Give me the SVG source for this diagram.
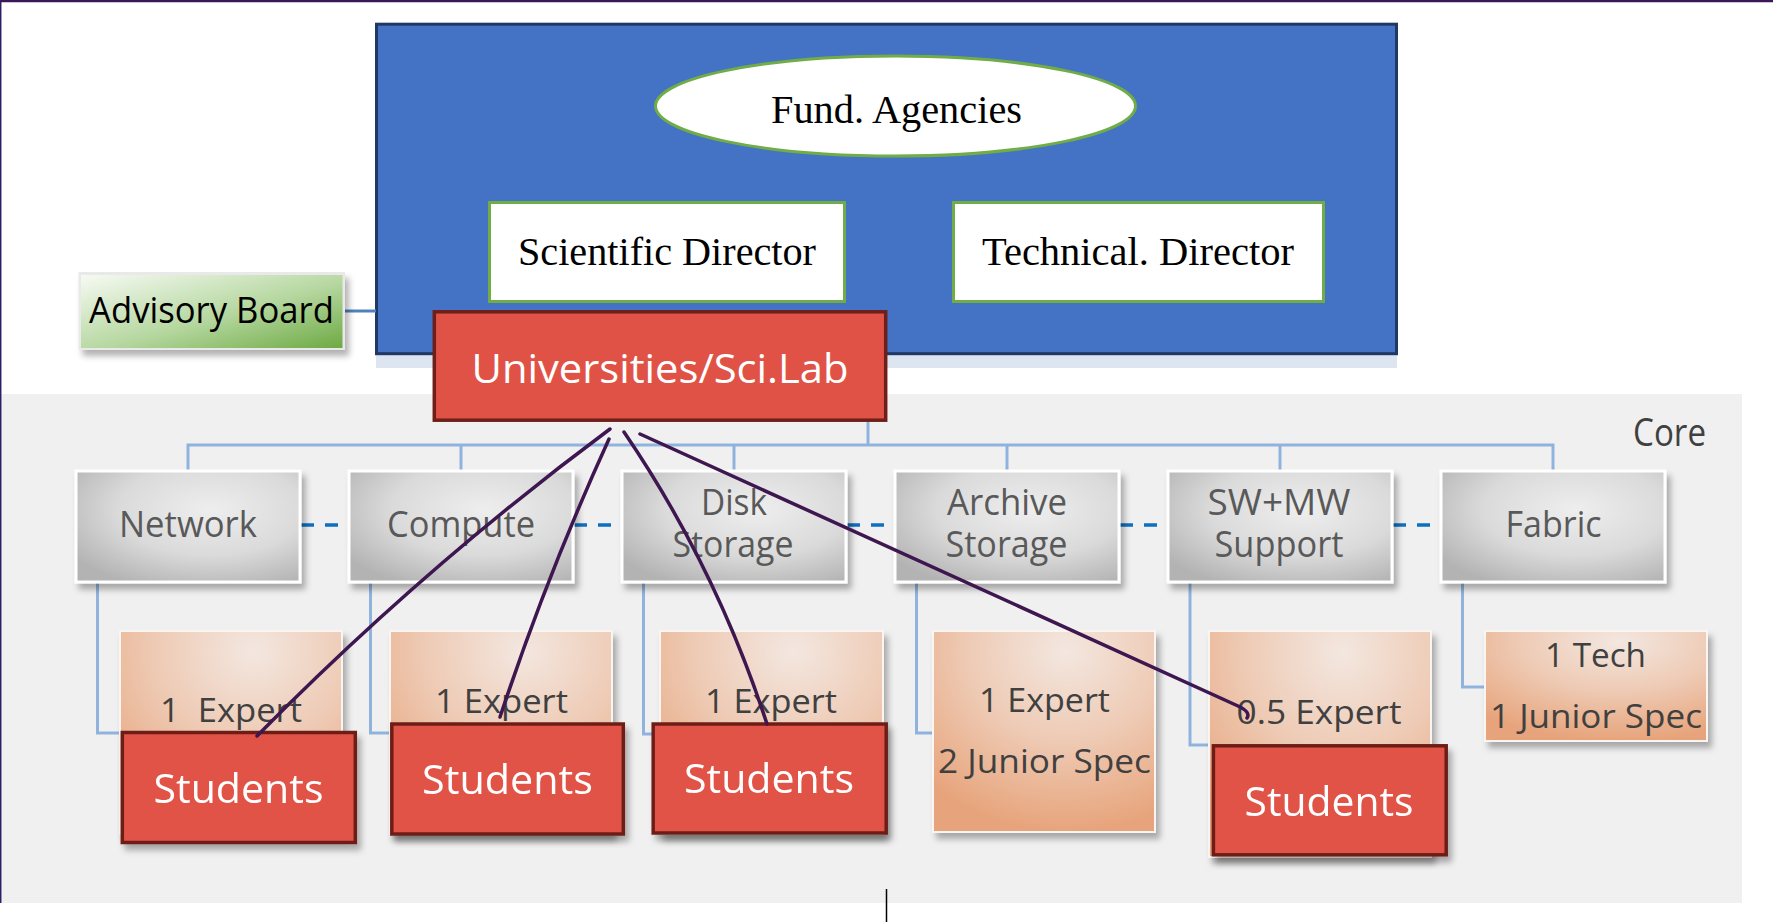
<svg xmlns="http://www.w3.org/2000/svg" width="1773" height="922" viewBox="0 0 1773 922">
  <defs>
    <radialGradient id="gGray" cx="0.6" cy="0.35" r="0.75">
      <stop offset="0" stop-color="#eeeeee"/>
      <stop offset="0.55" stop-color="#dadada"/>
      <stop offset="1" stop-color="#b3b3b3"/>
    </radialGradient>
    <radialGradient id="gPeach" cx="0.6" cy="0.1" r="0.9">
      <stop offset="0" stop-color="#f3e7e0"/>
      <stop offset="0.5" stop-color="#eecab4"/>
      <stop offset="1" stop-color="#e7a47b"/>
    </radialGradient>
    <linearGradient id="gGreen" x1="0" y1="0" x2="1" y2="1">
      <stop offset="0" stop-color="#f6faf3"/>
      <stop offset="0.55" stop-color="#b5d79f"/>
      <stop offset="1" stop-color="#6eaa44"/>
    </linearGradient>
    <filter id="shadow" x="-10%" y="-10%" width="125%" height="140%">
      <feDropShadow dx="4" dy="6" stdDeviation="3" flood-color="#000" flood-opacity="0.3"/>
    </filter>
  </defs>
  <style>
    .sans { font-family: "Open Sans", Lato, sans-serif; text-anchor: middle; font-variant-ligatures: none; }
    .serif { font-family: "Liberation Serif", "Times New Roman", serif; text-anchor: middle; fill: #000; }
    .grayT { fill: #595959; font-size: 36px; }
    .expT { fill: #404040; font-size: 33px; }
    .stuT { fill: #ffffff; font-size: 41px; }
    .red { fill: #e15246; stroke: #6e1f19; stroke-width: 3.5; }
    .gbox { fill: url(#gGray); stroke: #ffffff; stroke-width: 3; filter: url(#shadow); }
    .pbox { fill: url(#gPeach); stroke: #fbf5f1; stroke-width: 2; filter: url(#shadow); }
    .dbox { fill: #ffffff; stroke: #70ad47; stroke-width: 3; }
    .tree { fill: none; stroke: #8fb3dd; stroke-width: 3; }
    .dash { fill: none; stroke: #0e6fc1; stroke-width: 3.5; stroke-dasharray: 13 11; }
    .link { fill: none; stroke: #3e1650; stroke-width: 3.5; stroke-linecap: round; stroke-linejoin: round; }
  </style>

  <!-- page frame and core background -->
  <rect x="0" y="0" width="1773" height="922" fill="#ffffff"/>
  <rect x="0" y="394" width="1742" height="509" fill="#f0f0f0"/>
  <line x1="0" y1="1" x2="1773" y2="1" stroke="#3b1758" stroke-width="2.5"/>
  <line x1="0.7" y1="0" x2="0.7" y2="903" stroke="#2c1f66" stroke-width="1.5"/>

  <!-- governance block -->
  <g id="governance">
    <rect x="376" y="355" width="1021" height="13" fill="#dce5f0"/>
    <rect x="376.5" y="24.2" width="1020" height="329.5" fill="#4472c4" stroke="#1f3864" stroke-width="3"/>
  </g>
  <g id="fund-agencies">
    <ellipse cx="895.5" cy="106" rx="240" ry="50" fill="#ffffff" stroke="#70ad47" stroke-width="3"/>
    <text class="serif" x="896.5" y="123" font-size="39" textLength="251" lengthAdjust="spacingAndGlyphs">Fund. Agencies</text>
  </g>
  <g id="scientific-director">
    <rect class="dbox" x="489.5" y="202.5" width="355" height="99"/>
    <text class="serif" x="667" y="265" font-size="40" textLength="298" lengthAdjust="spacingAndGlyphs">Scientific Director</text>
  </g>
  <g id="technical-director">
    <rect class="dbox" x="953.5" y="202.5" width="370" height="99"/>
    <text class="serif" x="1138" y="265" font-size="40" textLength="312" lengthAdjust="spacingAndGlyphs">Technical. Director</text>
  </g>

  <!-- tree connectors -->
  <g id="connectors">
    <line x1="345" y1="311" x2="376" y2="311" stroke="#4f81bd" stroke-width="3"/>
    <path class="tree" d="M868,422 V445 M188,470 V445 H1553 V470 M461,445 V470 M734,445 V470 M1007,445 V470 M1280,445 V470"/>
    <path class="tree" d="M97.5,583 V733 H121 M370.5,583 V733 H391 M643.5,583 V734 H661 M916.5,583 V733 H934 M1190,583 V745 H1210 M1462.5,583 V687 H1486"/>
    <path class="dash" d="M301,525 H338 M574,525 H611 M847,525 H884 M1120,525 H1157 M1393,525 H1430"/>
  </g>

  <g id="advisory-board">
    <rect x="78.5" y="272" width="266.5" height="78" fill="#e9e9e9" filter="url(#shadow)"/>
    <rect x="81" y="275" width="261.5" height="73" fill="url(#gGreen)"/>
    <text class="sans" x="211.5" y="323" font-size="37" fill="#000" textLength="245" lengthAdjust="spacingAndGlyphs">Advisory Board</text>
  </g>

  <g id="universities">
    <rect class="red" x="434.3" y="311.8" width="451.4" height="108.4"/>
    <text class="sans stuT" x="660" y="383" font-size="40" textLength="377" lengthAdjust="spacingAndGlyphs">Universities/Sci.Lab</text>
  </g>

  <text id="core-label" class="sans" x="1669.5" y="446" font-size="38" fill="#404040" textLength="73" lengthAdjust="spacingAndGlyphs">Core</text>

  <!-- core areas -->
  <g id="network">
    <rect class="gbox" x="76" y="471" width="224" height="111"/>
    <text class="sans grayT" x="188" y="537" textLength="138" lengthAdjust="spacingAndGlyphs">Network</text>
  </g>
  <g id="compute">
    <rect class="gbox" x="349" y="471" width="224" height="111"/>
    <text class="sans grayT" x="461" y="537" textLength="148" lengthAdjust="spacingAndGlyphs">Compute</text>
  </g>
  <g id="disk-storage">
    <rect class="gbox" x="622" y="471" width="224" height="111"/>
    <text class="sans grayT"><tspan x="734" y="515" textLength="66" lengthAdjust="spacingAndGlyphs">Disk</tspan><tspan x="733" y="557" textLength="121" lengthAdjust="spacingAndGlyphs">Storage</tspan></text>
  </g>
  <g id="archive-storage">
    <rect class="gbox" x="895" y="471" width="224" height="111"/>
    <text class="sans grayT"><tspan x="1007" y="515" textLength="120" lengthAdjust="spacingAndGlyphs">Archive</tspan><tspan x="1006.5" y="557" textLength="122" lengthAdjust="spacingAndGlyphs">Storage</tspan></text>
  </g>
  <g id="sw-mw-support">
    <rect class="gbox" x="1168" y="471" width="224" height="111"/>
    <text class="sans grayT"><tspan x="1279" y="515" textLength="143" lengthAdjust="spacingAndGlyphs">SW+MW</tspan><tspan x="1279" y="557" textLength="129" lengthAdjust="spacingAndGlyphs">Support</tspan></text>
  </g>
  <g id="fabric">
    <rect class="gbox" x="1441" y="471" width="224" height="111"/>
    <text class="sans grayT" x="1553.5" y="537" textLength="96" lengthAdjust="spacingAndGlyphs">Fabric</text>
  </g>

  <!-- staffing -->
  <g id="staff-network">
    <rect class="pbox" x="120" y="631" width="222" height="203"/>
    <text class="sans expT" x="231" y="722" textLength="142" lengthAdjust="spacingAndGlyphs" xml:space="preserve">1  Expert</text>
  </g>
  <g id="staff-compute">
    <rect class="pbox" x="390" y="631" width="222" height="203"/>
    <text class="sans expT" x="501.5" y="713" textLength="133" lengthAdjust="spacingAndGlyphs">1 Expert</text>
  </g>
  <g id="staff-disk">
    <rect class="pbox" x="660" y="631" width="223" height="203"/>
    <text class="sans expT" x="771" y="713" textLength="132" lengthAdjust="spacingAndGlyphs">1 Expert</text>
  </g>
  <g id="staff-archive">
    <rect class="pbox" x="933" y="631" width="222" height="201"/>
    <text class="sans expT" x="1044.5" y="712" textLength="131" lengthAdjust="spacingAndGlyphs">1 Expert</text>
    <text class="sans expT" x="1044.5" y="773" textLength="213" lengthAdjust="spacingAndGlyphs">2 Junior Spec</text>
  </g>
  <g id="staff-sw-mw">
    <rect class="pbox" x="1209" y="631" width="222" height="226"/>
    <text class="sans expT" x="1319" y="724" textLength="165" lengthAdjust="spacingAndGlyphs">0.5 Expert</text>
  </g>
  <g id="staff-fabric">
    <rect class="pbox" x="1485" y="631" width="222" height="110"/>
    <text class="sans expT" x="1595.5" y="667" textLength="101" lengthAdjust="spacingAndGlyphs">1 Tech</text>
    <text class="sans expT" x="1596" y="728" textLength="212" lengthAdjust="spacingAndGlyphs">1 Junior Spec</text>
  </g>

  <!-- students -->
  <g id="students-network" filter="url(#shadow)">
    <rect class="red" x="122.3" y="732.5" width="233" height="110"/>
    <text class="sans stuT" x="238.5" y="803" textLength="170" lengthAdjust="spacingAndGlyphs">Students</text>
  </g>
  <g id="students-compute" filter="url(#shadow)">
    <rect class="red" x="391.8" y="724" width="231.5" height="110"/>
    <text class="sans stuT" x="507.5" y="794" textLength="171" lengthAdjust="spacingAndGlyphs">Students</text>
  </g>
  <g id="students-disk" filter="url(#shadow)">
    <rect class="red" x="653.2" y="724" width="233" height="109"/>
    <text class="sans stuT" x="769" y="793" textLength="170" lengthAdjust="spacingAndGlyphs">Students</text>
  </g>
  <g id="students-sw-mw" filter="url(#shadow)">
    <rect class="red" x="1213.4" y="745.8" width="232.8" height="109"/>
    <text class="sans stuT" x="1329" y="816" textLength="169" lengthAdjust="spacingAndGlyphs">Students</text>
  </g>

  <!-- university links -->
  <g id="university-links">
    <path class="link" d="M610,429 Q421.6,569 257,736"/>
    <path class="link" d="M609,439 Q547,575 500,717"/>
    <path class="link" d="M624,432 Q716,567 767,724"/>
    <path class="link" d="M640,434 L1238,706 Q1251,712 1247,718"/>
  </g>

  <line x1="886.5" y1="889" x2="886.5" y2="922" stroke="#000000" stroke-width="1.5"/>
</svg>
